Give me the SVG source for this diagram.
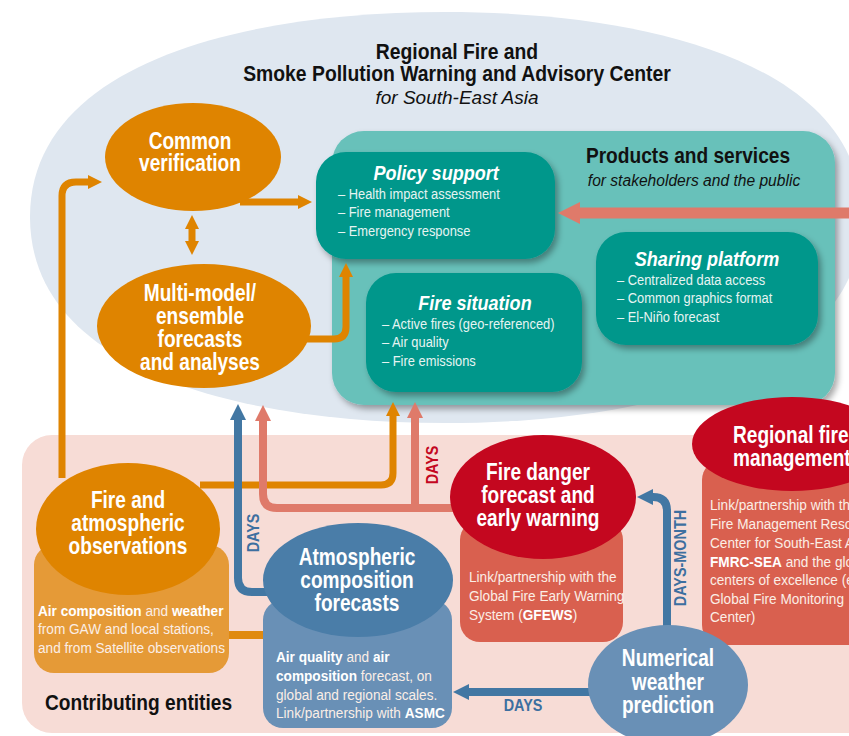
<svg xmlns="http://www.w3.org/2000/svg" width="849" height="736" viewBox="0 0 849 736">
  <style>
    text { font-family: "Liberation Sans", Arial, sans-serif; }
    .title, .node, .nodeL, .ptitle, .item, .info, .hdr { transform-box: fill-box; }
    .title { font-size: 22px; font-weight: bold; fill: #111; text-anchor: middle; transform: scaleX(0.88); transform-origin: center; }
    .subtitle { font-size: 19px; font-style: italic; fill: #111; text-anchor: middle; }
    .node { font-size: 23px; font-weight: bold; fill: #fff; text-anchor: middle; transform: scaleX(0.83); transform-origin: center; }
    .nodeL { font-size: 23px; font-weight: bold; fill: #fff; text-anchor: start; transform: scaleX(0.83); transform-origin: left center; }
    .ptitle { font-size: 21px; font-weight: bold; font-style: italic; fill: #fff; text-anchor: middle; transform: scaleX(0.86); transform-origin: center; }
    .item { font-size: 15px; fill: #e6f4f2; transform: scaleX(0.86); transform-origin: left center; }
    .info { font-size: 14.5px; fill: #fbeee6; transform: scaleX(0.94); transform-origin: left center; }
    .b { font-weight: bold; fill: #fff; }
    .lbl { font-size: 16px; font-weight: bold; text-anchor: middle; }
    .hdr { font-size: 22px; font-weight: bold; fill: #111; transform: scaleX(0.87); }
    .hdrC { transform-origin: center; text-anchor: middle; }
    .hdrL { transform-origin: left center; }
  </style>
  <defs>
    <filter id="shadow" x="-10%" y="-10%" width="125%" height="130%">
      <feDropShadow dx="3" dy="4" stdDeviation="3" flood-color="#000" flood-opacity="0.35"/>
    </filter>
    <marker id="hOrange" viewBox="0 0 10 10" refX="0" refY="5" markerWidth="2" markerHeight="2.6" orient="auto-start-reverse">
      <path d="M0,0 L10,5 L0,10 Z" fill="#df8400"/>
    </marker>
    <marker id="hSalmon" viewBox="0 0 10 10" refX="0" refY="5" markerWidth="2" markerHeight="2.6" orient="auto">
      <path d="M0,0 L10,5 L0,10 Z" fill="#df7a6a"/>
    </marker>
    <marker id="hBlue" viewBox="0 0 10 10" refX="0" refY="5" markerWidth="2" markerHeight="2.6" orient="auto">
      <path d="M0,0 L10,5 L0,10 Z" fill="#4277a3"/>
    </marker>
  </defs>

  <!-- background areas -->
  <rect width="849" height="736" fill="#fff"/>
  <path d="M 30,217 C 30,62 245,12 445,12 C 645,12 862,62 862,217 C 862,372 645,423 445,423 C 245,423 30,372 30,217 Z" fill="#dfe7f0"/>
  <rect x="22" y="435" width="900" height="298" rx="30" fill="#f7dcd6"/>

  <!-- center header -->
  <g id="center-title">
    <text class="title" x="457" y="59">Regional Fire and</text>
    <text class="title" x="457" y="81">Smoke Pollution Warning and Advisory Center</text>
    <text class="subtitle" x="457" y="104">for South-East Asia</text>
  </g>

  <!-- products and services panel -->
  <g id="products">
    <rect x="332" y="131" width="503" height="274" rx="32" fill="#67c1ba" filter="url(#shadow)"/>
    <text class="hdr hdrC" x="688" y="163">Products and services</text>
    <text x="694" y="186" font-size="15.6" font-style="italic" fill="#111" text-anchor="middle">for stakeholders and the public</text>
  </g>

  <g id="policy-support">
    <rect x="316" y="152" width="239" height="107" rx="30" fill="#00978b" filter="url(#shadow)"/>
    <text class="ptitle" x="436" y="180">Policy support</text>
    <text class="item" x="338" y="199">–  Health impact assessment</text>
    <text class="item" x="338" y="217">–  Fire management</text>
    <text class="item" x="338" y="236">–  Emergency response</text>
  </g>

  <g id="fire-situation">
    <rect x="366" y="273" width="216" height="119" rx="30" fill="#00978b" filter="url(#shadow)"/>
    <text class="ptitle" x="475" y="310">Fire situation</text>
    <text class="item" x="382" y="329">–  Active fires (geo-referenced)</text>
    <text class="item" x="382" y="347">–  Air quality</text>
    <text class="item" x="382" y="366">–  Fire emissions</text>
  </g>

  <g id="sharing-platform">
    <rect x="596" y="232" width="222" height="113" rx="30" fill="#00978b" filter="url(#shadow)"/>
    <text class="ptitle" x="707" y="266">Sharing platform</text>
    <text class="item" x="617" y="285">–  Centralized data access</text>
    <text class="item" x="617" y="303">–  Common graphics format</text>
    <text class="item" x="617" y="322">–  El-Niño forecast</text>
  </g>

  <!-- connectors -->
  <g id="connectors" fill="none">
    <path d="M 62,478 V 196 Q 62,182 76,182 H 88" stroke="#df8400" stroke-width="7" marker-end="url(#hOrange)"/>
    <path d="M 240,202 H 298" stroke="#df8400" stroke-width="7" marker-end="url(#hOrange)"/>
    <path d="M 192,229 V 241" stroke="#df8400" stroke-width="7" marker-start="url(#hOrange)" marker-end="url(#hOrange)"/>
    <path d="M 305,339 H 334 Q 346,339 346,327 V 277" stroke="#df8400" stroke-width="7" marker-end="url(#hOrange)"/>
    <path d="M 200,485 H 381 Q 393,485 393,473 V 416" stroke="#df8400" stroke-width="7" marker-end="url(#hOrange)"/>
    <path d="M 226,635 H 266" stroke="#e08a10" stroke-width="8"/>
    <path d="M 849,213 H 580" stroke="#df7a6a" stroke-width="11" marker-end="url(#hSalmon)"/>
    <path d="M 455,508 H 277 Q 263,508 263,494 V 421" stroke="#df7a6a" stroke-width="8" marker-end="url(#hSalmon)"/>
    <path d="M 415,508 V 418" stroke="#df7a6a" stroke-width="8" marker-end="url(#hSalmon)"/>
    <path d="M 272,592 H 252 Q 238,592 238,578 V 420" stroke="#4277a3" stroke-width="8" marker-end="url(#hBlue)"/>
    <path d="M 667,630 V 511 Q 667,497 653,497" stroke="#4277a3" stroke-width="8" marker-end="url(#hBlue)"/>
    <path d="M 592,692 H 469" stroke="#4277a3" stroke-width="8" marker-end="url(#hBlue)"/>
    <text class="lbl" transform="translate(438,465) rotate(-90) scale(0.9,1)" fill="#c4071f">DAYS</text>
    <text class="lbl" transform="translate(259,533) rotate(-90) scale(0.9,1)" fill="#3d6fa0">DAYS</text>
    <text class="lbl" transform="translate(686,558) rotate(-90) scale(0.9,1)" fill="#3d6fa0">DAYS-MONTH</text>
    <text class="lbl" transform="translate(523,711) scale(0.9,1)" fill="#3d6fa0">DAYS</text>
  </g>

  <!-- nodes -->
  <g id="common-verification">
    <ellipse cx="193" cy="157" rx="88" ry="54" fill="#df8400"/>
    <text class="node" x="190" y="149">Common</text>
    <text class="node" x="190" y="171">verification</text>
  </g>

  <g id="multi-model">
    <ellipse cx="204" cy="326" rx="107" ry="62" fill="#df8400"/>
    <text class="node" x="200" y="301">Multi-model/</text>
    <text class="node" x="200" y="324">ensemble</text>
    <text class="node" x="200" y="347">forecasts</text>
    <text class="node" x="200" y="370">and analyses</text>
  </g>

  <g id="fire-observations">
    <rect x="34" y="545" width="195" height="128" rx="20" fill="#e59a37"/>
    <ellipse cx="128" cy="529" rx="92" ry="66" fill="#df8400"/>
    <text class="node" x="128" y="508">Fire and</text>
    <text class="node" x="128" y="531">atmospheric</text>
    <text class="node" x="128" y="554">observations</text>
    <text class="info" x="38" y="616"><tspan class="b">Air composition</tspan> and <tspan class="b">weather</tspan></text>
    <text class="info" x="38" y="634">from GAW and local stations,</text>
    <text class="info" x="38" y="653">and from Satellite observations</text>
  </g>

  <g id="atmospheric-composition">
    <rect x="263" y="600" width="189" height="128" rx="20" fill="#6990b6"/>
    <ellipse cx="358" cy="580" rx="95" ry="57" fill="#4a7da8"/>
    <text class="node" x="357" y="565">Atmospheric</text>
    <text class="node" x="357" y="588">composition</text>
    <text class="node" x="357" y="611">forecasts</text>
    <text class="info" x="276" y="662"><tspan class="b">Air quality</tspan> and <tspan class="b">air</tspan></text>
    <text class="info" x="276" y="681"><tspan class="b">composition</tspan> forecast, on</text>
    <text class="info" x="276" y="700">global and regional scales.</text>
    <text class="info" x="276" y="718">Link/partnership with <tspan class="b">ASMC</tspan></text>
  </g>

  <g id="fire-danger">
    <rect x="460" y="520" width="163" height="122" rx="20" fill="#d9604f"/>
    <ellipse cx="543" cy="497" rx="93" ry="62" fill="#c4071f"/>
    <text class="node" x="538" y="480">Fire danger</text>
    <text class="node" x="538" y="503">forecast and</text>
    <text class="node" x="538" y="526">early warning</text>
    <text class="info" x="469" y="582">Link/partnership with the</text>
    <text class="info" x="469" y="601">Global Fire Early Warning</text>
    <text class="info" x="469" y="620">System (<tspan class="b">GFEWS</tspan>)</text>
  </g>

  <g id="regional-fire-management">
    <rect x="702" y="460" width="200" height="185" rx="20" fill="#d9604f"/>
    <ellipse cx="792" cy="444" rx="100" ry="47" fill="#c4071f"/>
    <text class="nodeL" x="733" y="443">Regional fire</text>
    <text class="nodeL" x="733" y="466">management</text>
    <text class="info" x="710" y="510">Link/partnership with the</text>
    <text class="info" x="710" y="529">Fire Management Resource</text>
    <text class="info" x="710" y="548">Center for South-East Asia</text>
    <text class="info" x="710" y="567"><tspan class="b">FMRC-SEA</tspan> and the global</text>
    <text class="info" x="710" y="585">centers of excellence (e.g.</text>
    <text class="info" x="710" y="604">Global Fire Monitoring</text>
    <text class="info" x="710" y="622">Center)</text>
  </g>

  <g id="numerical-weather-prediction">
    <ellipse cx="668" cy="685" rx="80" ry="60" fill="#6990b6"/>
    <text class="node" x="668" y="666">Numerical</text>
    <text class="node" x="668" y="690">weather</text>
    <text class="node" x="668" y="713">prediction</text>
  </g>

  <g id="contributing-entities">
    <text class="hdr hdrL" x="45" y="710">Contributing entities</text>
  </g>
</svg>
